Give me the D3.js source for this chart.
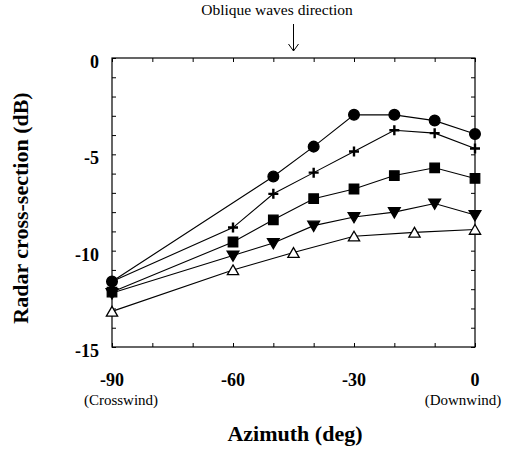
<!DOCTYPE html>
<html>
<head>
<meta charset="utf-8">
<script src="https://cdn.jsdelivr.net/npm/d3@7"></script>
<style>
  body { margin: 0; background: #fff; }
  text { font-family: "Liberation Serif", "Times New Roman", serif; fill: #000; }
</style>
</head>
<body>
<svg width="510" height="449"></svg>
<script>
// azimuth (deg) for each series
var azCircle = [-90, -50, -40, -30, -20, -10, 0];
var rcsCircle = [-11.6, -6.15, -4.6, -2.95, -2.95, -3.25, -3.95];

var azPlus = [-90, -60, -50, -40, -30, -20, -10, 0];
var rcsPlus = [-11.6, -8.8, -7.05, -5.95, -4.85, -3.75, -3.9, -4.7];

var azSquare = [-90, -60, -50, -40, -30, -20, -10, 0];
var rcsSquare = [-12.15, -9.55, -8.4, -7.3, -6.8, -6.1, -5.7, -6.25];

var azTriDown = [-90, -60, -50, -40, -30, -20, -10, 0];
var rcsTriDown = [-12.2, -10.25, -9.6, -8.7, -8.25, -8.0, -7.55, -8.15];

var azTriUp = [-90, -60, -45, -30, -15, 0];
var rcsTriUp = [-13.15, -11.0, -10.1, -9.25, -9.05, -8.9];

var xTickLabels = [-90, -60, -30, 0];
var yTickLabels = [0, -5, -10, -15];

var svg = d3.select("svg");
var pLeft = 112, pRight = 475, pTop = 58, pBottom = 347;

var x = d3.scaleLinear().domain([-90, 0]).range([pLeft, pRight]);
var y = d3.scaleLinear().domain([-15, 0]).range([pBottom, pTop]);

// frame
svg.append("rect")
  .attr("x", pLeft).attr("y", pTop)
  .attr("width", pRight - pLeft).attr("height", pBottom - pTop)
  .attr("fill", "none").attr("stroke", "#000").attr("stroke-width", 1.2);

// inward minor ticks
var g = svg.append("g");
g.append("g").attr("transform", "translate(0," + pBottom + ")")
  .call(d3.axisTop(x).tickValues(d3.range(-90, 1, 10)).tickSize(4).tickFormat(""));
g.append("g").attr("transform", "translate(0," + pTop + ")")
  .call(d3.axisBottom(x).tickValues(d3.range(-90, 1, 10)).tickSize(4).tickFormat(""));
g.append("g").attr("transform", "translate(" + pLeft + ",0)")
  .call(d3.axisRight(y).tickValues(d3.range(-15, 1, 1)).tickSize(4).tickFormat(""));
g.append("g").attr("transform", "translate(" + pRight + ",0)")
  .call(d3.axisLeft(y).tickValues(d3.range(-15, 1, 1)).tickSize(4).tickFormat(""));
g.selectAll(".domain").remove();
g.selectAll(".tick line").attr("stroke", "#000");

// tick labels
svg.selectAll(".xl").data(xTickLabels).enter().append("text")
  .attr("x", function(d) { return x(d); })
  .attr("y", 386)
  .attr("text-anchor", "middle")
  .attr("font-size", 18).attr("font-weight", "bold")
  .text(function(d) { return d; });

svg.selectAll(".yl").data(yTickLabels).enter().append("text")
  .attr("x", 99)
  .attr("y", function(d) { return y(d) + 10; })
  .attr("text-anchor", "end")
  .attr("font-size", 18).attr("font-weight", "bold")
  .text(function(d) { return d; });

svg.append("text").attr("x", x(-90) + 9).attr("y", 405)
  .attr("text-anchor", "middle").attr("font-size", 15).text("(Crosswind)");
svg.append("text").attr("x", x(0) - 12).attr("y", 405)
  .attr("text-anchor", "middle").attr("font-size", 15).text("(Downwind)");

svg.append("text").attr("x", 295).attr("y", 441)
  .attr("text-anchor", "middle").attr("font-size", 22).attr("font-weight", "bold")
  .text("Azimuth (deg)");

svg.append("text")
  .attr("transform", "translate(28,208) rotate(-90)")
  .attr("text-anchor", "middle").attr("font-size", 22).attr("font-weight", "bold")
  .text("Radar cross-section (dB)");

// oblique waves annotation
svg.append("text").attr("x", 277).attr("y", 15)
  .attr("text-anchor", "middle").attr("font-size", 15.5).text("Oblique waves direction");
svg.append("line").attr("x1", x(-45)).attr("x2", x(-45)).attr("y1", 24).attr("y2", 51)
  .attr("stroke", "#000");
svg.append("path")
  .attr("d", "M" + (x(-45) - 5) + ",44 L" + x(-45) + ",51 L" + (x(-45) + 5) + ",44")
  .attr("fill", "none").attr("stroke", "#000");

// series
var series = [
  { az: azTriUp, v: rcsTriUp, sym: d3.symbolTriangle, size: 55, fill: "#fff", dy: 1.5 },
  { az: azTriDown, v: rcsTriDown, sym: d3.symbolTriangle, size: 60, fill: "#000", rot: 180, dy: -1 },
  { az: azSquare, v: rcsSquare, sym: d3.symbolSquare, size: 90, fill: "#000", dy: 0 },
  { az: azPlus, v: rcsPlus, sym: d3.symbolCross, size: 70, fill: "#000", plus: true, dy: 0 },
  { az: azCircle, v: rcsCircle, sym: d3.symbolCircle, size: 90, fill: "#000", dy: 0 }
];

var line = d3.line()
  .x(function(d) { return x(d[0]); })
  .y(function(d) { return y(d[1]); });

series.forEach(function(s) {
  var pts = s.az.map(function(a, i) { return [a, s.v[i]]; });
  svg.append("path").datum(pts)
    .attr("d", line)
    .attr("fill", "none").attr("stroke", "#000").attr("stroke-width", 1.1);
});

series.forEach(function(s) {
  var pts = s.az.map(function(a, i) { return [a, s.v[i]]; });
  var m = svg.append("g").selectAll("path").data(pts).enter().append("path")
    .attr("transform", function(d) {
      return "translate(" + x(d[0]) + "," + (y(d[1]) + s.dy) + ")" + (s.rot ? " rotate(" + s.rot + ")" : "");
    });
  if (s.plus) {
    m.attr("d", "M-5,0H5M0,-5V5").attr("stroke", "#000").attr("stroke-width", 2.4).attr("fill", "none");
  } else {
    m.attr("d", d3.symbol().type(s.sym).size(s.size))
      .attr("fill", s.fill).attr("stroke", "#000").attr("stroke-width", 1.3);
  }
});
</script>
</body>
</html>
